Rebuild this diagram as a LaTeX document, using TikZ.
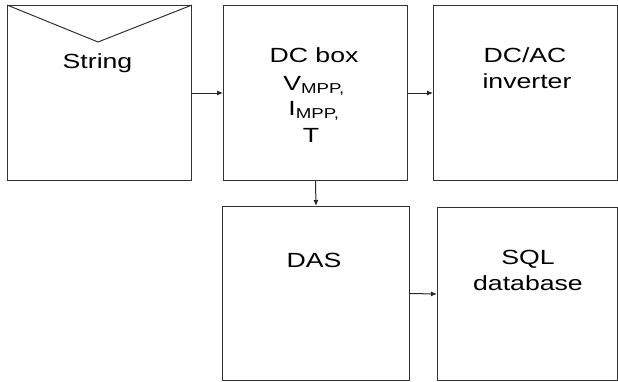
\documentclass[tikz,border=0pt]{standalone}
\usepackage{fontspec}
\setmainfont{Liberation Sans}
\newfontfamily\widefont[FakeStretch=1.3]{Liberation Sans}
\usetikzlibrary{arrows.meta}
\begin{document}
\begin{tikzpicture}[x=1pt,y=-1pt,
  box/.style={draw=black!80,line width=1pt,inner sep=0pt,minimum width=#1,anchor=north west},
  lbl/.style={font=\widefont\fontsize{20.5}{22}\selectfont,inner sep=0pt,anchor=base},
  arr/.style={draw=black!85,line width=1pt,-{Latex[length=6pt,width=5pt]}}]
\useasboundingbox (0,0) rectangle (618,381);
\node[box=184pt,minimum height=175pt] (str) at (7,5) {};
\node[box=184pt,minimum height=175pt] (dc) at (223,5) {};
\node[box=184pt,minimum height=175pt] (inv) at (433,5) {};
\node[box=187pt,minimum height=174pt] (das) at (222,206) {};
\node[box=180pt,minimum height=173pt] (sql) at (437,207) {};
\coordinate (vtip) at (98,42);
\draw[draw=black!80,line width=1pt] (str.north west) -- (vtip) -- (str.north east);
\node[lbl] (tstr) at (97.5,68) {String};
\node[lbl] (tdc1) at (314,62) {DC box};
\node[lbl] (tdc2) at (314,90) {V\textsubscript{MPP,}};
\node[lbl] (tdc3) at (314,115) {I\textsubscript{MPP,}};
\node[lbl] (tdc4) at (311,142) {T};
\node[lbl] (tinv1) at (525,62) {DC/AC};
\node[lbl] (tinv2) at (527,88) {inverter};
\node[lbl] (tdas) at (314,267) {DAS};
\node[lbl] (tsql1) at (528,264) {SQL};
\node[lbl] (tsql2) at (528,290) {database};
\draw[arr] (str.east) -- (dc.west);
\draw[arr] (dc.east) -- (inv.west);
\draw[arr] (dc.south) -- (das.north);
\draw[arr] (das.east) -- (sql.west);
\end{tikzpicture}
\end{document}
